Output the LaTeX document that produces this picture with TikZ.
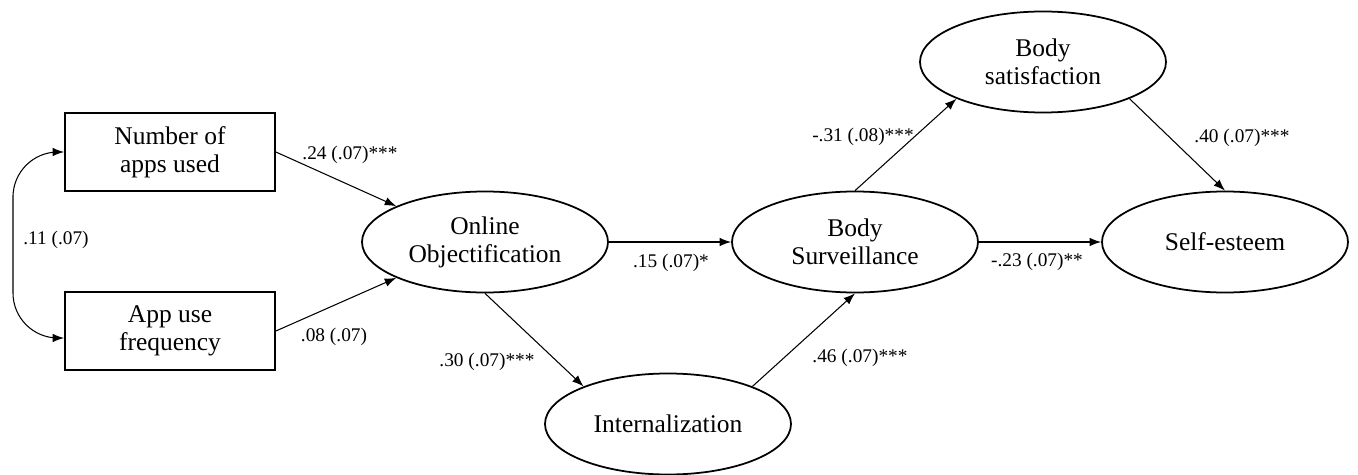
\documentclass[tikz,border=0pt]{standalone}
\usepackage{fontspec}
\setmainfont{Liberation Serif}
\usetikzlibrary{shapes.geometric,arrows.meta}

\begin{document}
\begin{tikzpicture}[
font=\fontsize{14.5}{16}\selectfont,
measure/.style={
rectangle,
draw=black,
line width=1pt,
align=center,
minimum width=4.2cm,
minimum height=1.56cm,
inner sep=0pt
},
latent/.style={
ellipse,
draw=black,
line width=1pt,
align=center,
minimum width=4.92cm,
minimum height=2.02cm,
inner sep=0pt
},
link/.style={line width=0.6pt, -{Latex[length=2.3mm,width=1.7mm]}},
coef/.style={font=\fontsize{11}{13}\selectfont, inner sep=1pt}
]

\useasboundingbox (0,0) rectangle (27.16,-9.5);

\node[measure] (apps) at (3.4,-3.04)
{Number of\\apps used};

\node[measure] (freq) at (3.4,-6.62)
{App use\\frequency};

\node[latent] (online) at (9.7,-4.84)
{Online\\Objectification};

\node[latent] (intern) at (13.36,-8.48)
{Internalization};

\node[latent] (surv) at (17.1,-4.84)
{Body\\Surveillance};

\node[latent] (satis) at (20.86,-1.24)
{Body\\satisfaction};

\node[latent] (esteem) at (24.5,-4.84)
{Self-esteem};

% Paths between the variables
\draw[link] (apps.east) -- (online.158);
\draw[link] (freq.east) -- (online.202);
\draw[link] (online.east) -- (surv.west);
\draw[link] (online.south) -- (intern.156);
\draw[link] (intern.24) -- (surv.south);
\draw[link] (surv.north) -- (satis.203);
\draw[link] (satis.-23) -- (esteem.north);
\draw[link] (surv.east) -- (esteem.west);

% Covariance between the two measures
\draw[line width=0.6pt, {Latex[length=2.3mm,width=1.7mm]}-{Latex[length=2.3mm,width=1.7mm]}, rounded corners=0.9cm]
(apps.west) -| (0.26,-4.8) |- ([yshift=-0.14cm]freq.west);

% Path coefficients
\node[coef] (c11) at (1.12,-4.8) {.11 (.07)};
\node[coef] (c24) at (7.0,-3.1) {.24 (.07)***};
\node[coef] (c08) at (6.68,-6.74) {.08 (.07)};
\node[coef] (c15) at (13.42,-5.26) {.15 (.07)*};
\node[coef] (c30) at (9.74,-7.24) {.30 (.07)***};
\node[coef] (c46) at (17.2,-7.16) {.46 (.07)***};
\node[coef] (c31) at (17.26,-2.74) {-.31 (.08)***};
\node[coef] (c40) at (24.84,-2.76) {.40 (.07)***};
\node[coef] (c23) at (20.74,-5.24) {-.23 (.07)**};

\end{tikzpicture}
\end{document}
